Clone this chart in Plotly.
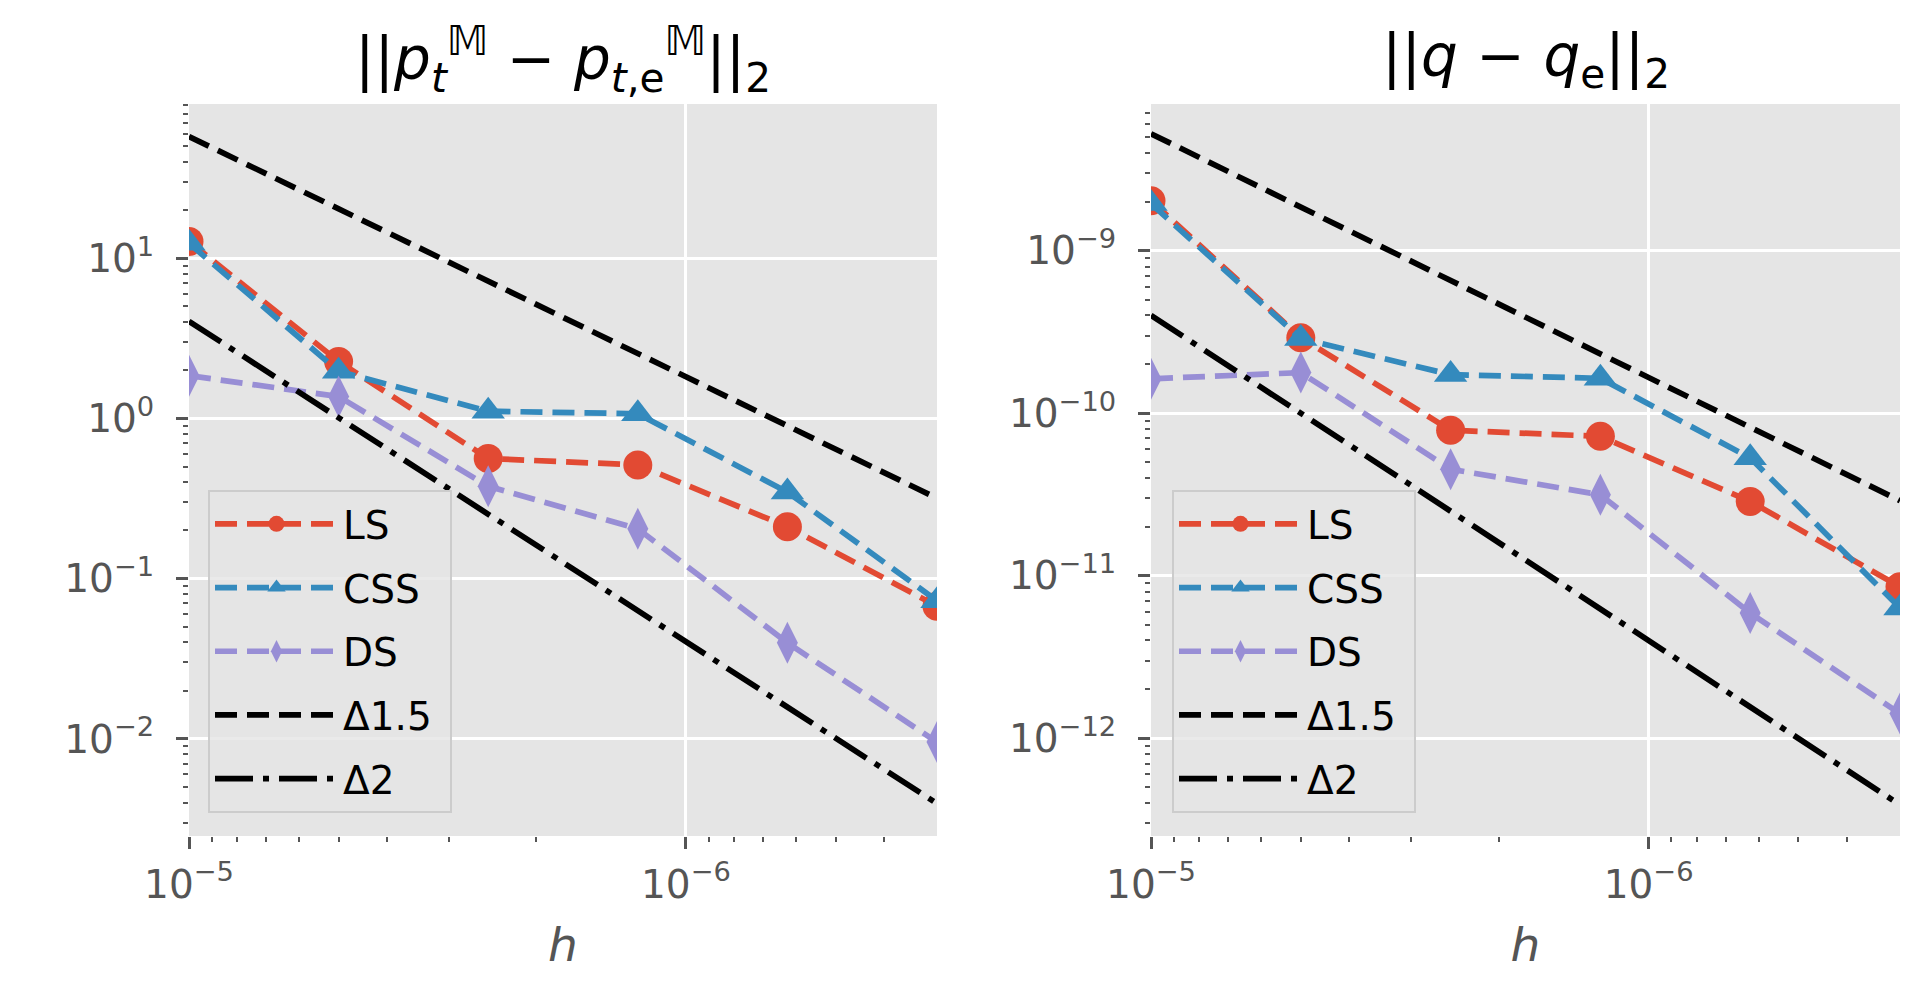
import math
import plotly.graph_objects as go

# ---------------- data ----------------
h = [1e-5, 5e-6, 2.5e-6, 1.25e-6, 6.25e-7, 3.125e-7]

# left panel: ||p_t^M - p_{t,e}^M||_2
p_LS = [12.7, 2.27, 0.562, 0.513, 0.211, 0.0673]
p_CSS = [12.4, 1.97, 1.11, 1.07, 0.347, 0.0728]
p_DS = [1.85, 1.37, 0.377, 0.205, 0.0398, 0.00955]
p_D15 = [57.5, 20.3, 7.19, 2.54, 0.899, 0.318]
p_D2 = [4.04, 1.01, 0.253, 0.0631, 0.0158, 0.00395]

# right panel: ||q - q_e||_2
q_LS = [2.03e-9, 2.92e-10, 7.87e-11, 7.21e-11, 2.87e-11, 8.55e-12]
q_CSS = [1.95e-9, 2.88e-10, 1.73e-10, 1.64e-10, 5.32e-11, 6.34e-12]
q_DS = [1.63e-10, 1.78e-10, 4.53e-11, 3.15e-11, 5.90e-12, 1.42e-12]
q_D15 = [5.25e-9, 1.86e-9, 6.56e-10, 2.32e-10, 8.2e-11, 2.9e-11]
q_D2 = [4.0e-10, 1.0e-10, 2.5e-11, 6.25e-12, 1.56e-12, 3.9e-13]

series_names = ["LS", "CSS", "DS", "Δ1.5", "Δ2"]
left_title = "||<i>p</i><sub><i>t</i></sub><sup>𝕄</sup> − <i>p</i><sub><i>t</i>,e</sub><sup>𝕄</sup>||<sub>2</sub>"
right_title = "||<i>q</i> − <i>q</i><sub>e</sub>||<sub>2</sub>"

x_ticks = [1e-5, 1e-6]
x_ticktext = ["10<sup>−5</sup>", "10<sup>−6</sup>"]
yl_ticks = [10, 1, 0.1, 0.01]
yl_ticktext = ["10<sup>1</sup>", "10<sup>0</sup>", "10<sup>−1</sup>", "10<sup>−2</sup>"]
yr_ticks = [1e-9, 1e-10, 1e-11, 1e-12]
yr_ticktext = ["10<sup>−9</sup>", "10<sup>−10</sup>", "10<sup>−11</sup>", "10<sup>−12</sup>"]

# ---------------- styling ----------------
W, H = 1920, 991
OFF = 8  # page body margin offset
FONT = "DejaVu Sans"
C_LS, C_CSS, C_DS = "#E24A33", "#348ABD", "#988ED5"
BG = "#E5E5E5"
TICKC = "#555555"
LW = 5.7
DASH = "22px,10px"
DASHDOT = "38px,10px,6px,10px"


def px(v):
    return (v - OFF) / W


def py(v):
    return 1 - (v - OFF) / H


def minor_vals(lo_exp, hi_exp, lo, hi):
    vals = []
    for e in range(lo_exp, hi_exp + 1):
        for m in range(2, 10):
            v = m * 10 ** e
            if lo < v < hi:
                vals.append(v)
    return vals


fig = go.Figure()

panels = [
    ("x", "y", "legend", p_LS, p_CSS, p_DS, p_D15, p_D2),
    ("x2", "y2", "legend2", q_LS, q_CSS, q_DS, q_D15, q_D2),
]
for xa, ya, lg, ls, css, ds, d15, d2 in panels:
    specs = [
        (ls, C_LS, DASH, "circle", 29),
        (css, C_CSS, DASH, "triangle-up", 29),
        (ds, C_DS, DASH, "diamond-tall", 30),
        (d15, "black", DASH, None, 0),
        (d2, "black", DASHDOT, None, 0),
    ]
    for name, (vals, col, dash, sym, ms) in zip(series_names, specs):
        kw = dict(
            x=h, y=vals, name=name + "\u00a0", xaxis=xa, yaxis=ya, legend=lg,
            legendgroup=lg + name,
            line=dict(color=col, width=LW, dash=dash),
            cliponaxis=True,
        )
        if sym:
            kw["mode"] = "lines+markers"
            kw["marker"] = dict(symbol=sym, size=ms, color=col, line=dict(width=0))
        else:
            kw["mode"] = "lines"
        fig.add_trace(go.Scatter(**kw))

xr = [math.log10(h[0]), math.log10(h[-1])]
ylr = [-2.606, 1.9625]
yrr = [-12.601, -8.097]

xdom1 = [px(189), px(937)]
xdom2 = [px(1151), px(1900)]
ydom = [py(836), py(104)]

tickfont = dict(family=FONT, size=39, color=TICKC)


def xaxis(dom, anchor):
    return dict(
        type="log", domain=dom, anchor=anchor, range=xr, automargin=False,
        tickmode="array", tickvals=x_ticks, ticktext=x_ticktext,
        ticks="outside", ticklen=12, tickwidth=2.5, tickcolor=TICKC,
        tickfont=tickfont, ticklabelstandoff=2,
        showgrid=True, gridcolor="white", gridwidth=2.7,
        zeroline=False, showline=False,
        minor=dict(tickmode="array", tickvals=minor_vals(-7, -6, h[-1], h[0]),
                   ticks="outside", ticklen=5, tickwidth=2, tickcolor=TICKC, showgrid=False),
        title=dict(text="<i>h</i>", font=dict(family=FONT, size=47, color=TICKC), standoff=22),
    )


def yaxis(dom, anchor, rng, tv, tt):
    return dict(
        type="log", domain=dom, anchor=anchor, range=rng, automargin=False,
        tickmode="array", tickvals=tv, ticktext=tt,
        ticks="outside", ticklen=12, tickwidth=2.5, tickcolor=TICKC,
        tickfont=tickfont, ticklabelstandoff=14,
        showgrid=True, gridcolor="white", gridwidth=2.7,
        zeroline=False, showline=False,
        minor=dict(tickmode="array",
                   tickvals=minor_vals(int(math.floor(rng[0])) - 1, int(math.ceil(rng[1])),
                                       10 ** rng[0], 10 ** rng[1]),
                   ticks="outside", ticklen=5, tickwidth=2, tickcolor=TICKC, showgrid=False),
    )


def legend(x):
    return dict(
        x=x, y=py(490), xanchor="left", yanchor="top",
        bgcolor="rgba(229,229,229,0.8)", bordercolor="#CCCCCC", borderwidth=2,
        font=dict(family=FONT, size=39, color="black"),
        tracegroupgap=10, itemwidth=123,
    )


fig.update_layout(
    width=W, height=H,
    margin=dict(l=0, r=0, t=0, b=0, autoexpand=False),
    paper_bgcolor="white", plot_bgcolor=BG,
    font=dict(family=FONT),
    xaxis=xaxis(xdom1, "y"),
    yaxis=yaxis(ydom, "x", ylr, yl_ticks, yl_ticktext),
    xaxis2=xaxis(xdom2, "y2"),
    yaxis2=yaxis(ydom, "x2", yrr, yr_ticks, yr_ticktext),
    legend=legend(px(208)),
    legend2=legend(px(1172)),
    showlegend=True,
    annotations=[
        dict(text=left_title, x=(xdom1[0] + xdom1[1]) / 2, y=py(60),
             xref="paper", yref="paper", xanchor="center", yanchor="middle",
             showarrow=False, font=dict(family=FONT, size=58, color="black")),
        dict(text=right_title, x=(xdom2[0] + xdom2[1]) / 2, y=py(60),
             xref="paper", yref="paper", xanchor="center", yanchor="middle",
             showarrow=False, font=dict(family=FONT, size=58, color="black")),
    ],
)

fig.write_html("out.html")
